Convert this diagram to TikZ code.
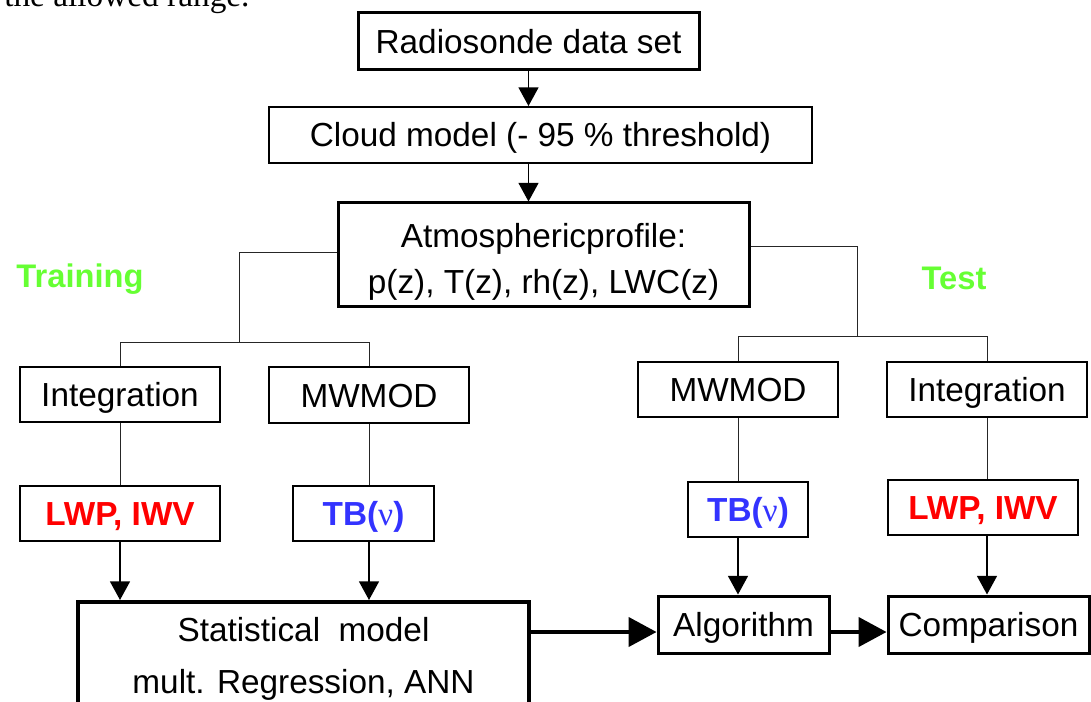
\documentclass[tikz,border=0pt]{standalone}
\usepackage{fontspec}
\setmainfont{Liberation Sans}
\newfontfamily\serifrm{Liberation Serif}
\usetikzlibrary{arrows.meta,calc}
\definecolor{trgreen}{RGB}{102,255,51}
\definecolor{lwpred}{RGB}{255,0,0}
\definecolor{tbblue}{RGB}{51,51,255}
\begin{document}
\begin{tikzpicture}[x=0.75pt,y=-0.75pt,
  wh/.style 2 args={minimum width=#1*0.75pt,minimum height=#2*0.75pt},
  box/.style={draw,line width=1.5pt,rectangle,inner sep=0pt,font=\fontsize{25}{30}\selectfont,text=black,text height=18pt,text depth=0pt},
  boxthick/.style={box,line width=2.25pt},
  multibox/.style={draw,rectangle,inner sep=0pt,align=center,text=black,line width=2.25pt},
  redbox/.style={box,text=lwpred,font=\fontsize{25}{30}\selectfont\bfseries},
  bluebox/.style={box,text=tbblue,font=\fontsize{25}{30}\selectfont\bfseries},
  conn/.style={line width=0.75pt,draw=black!85},
  arr/.style={line width=1.1pt,-{Triangle[length=14pt,width=15pt]}},
  bigarr/.style={line width=2.5pt,-{Triangle[length=21pt,width=22pt]}},
  lbl/.style={font=\fontsize{24.5}{30}\selectfont\bfseries,text=trgreen}
]
\useasboundingbox (0,0) rectangle (1091,702);
\clip (0,0) rectangle (1091,702);

\node[anchor=base west,inner sep=0pt,font=\serifrm\fontsize{25}{28}\selectfont] (topline) at (4,7) {the allowed range.};

\node[boxthick,wh={341}{57}] (rs) at (528.5,41.5) {Radiosonde data set};
\node[box,wh={543}{56}] (cloud) at (540.5,135) {Cloud model (- 95 \% threshold)};
\node[multibox,wh={411}{103},font=\fontsize{25}{34.5}\selectfont] (atm) at (543.5,254.5) {\rule{0pt}{29pt}Atmosphericprofile:\\p(z), T(z), rh(z), LWC(z)};

\node[lbl] (train) at (80,279) {Training};
\node[lbl] (test) at (954,278) {Test};

\node[box,wh={200}{55}] (intL) at (120,394.5) {Integration};
\node[box,wh={200}{56}] (mwL) at (369,395) {MWMOD};
\node[redbox,wh={200}{55}] (lwpL) at (120,513.5) {LWP, IWV};
\node[bluebox,wh={141}{55}] (tbL) at (363.5,513.5) {TB({\serifrm\mdseries ν})};
\node[multibox,line width=3pt,wh={451}{108},font=\fontsize{25}{39}\selectfont] (stat) at (303.5,656) {\rule{0pt}{23pt}Statistical\ \ model\\mult. Regression, ANN};

\node[box,wh={200}{55}] (mwR) at (738,389.5) {MWMOD};
\node[box,wh={200}{55}] (intR) at (987,389.5) {Integration};
\node[bluebox,wh={120}{55}] (tbR) at (748,509.5) {TB({\serifrm\mdseries ν})};
\node[redbox,wh={190}{55}] (lwpR) at (983,507.5) {LWP, IWV};
\node[boxthick,wh={171}{57}] (alg) at (743.5,624.5) {Algorithm};
\node[boxthick,wh={201}{57}] (cmp) at (988.5,624.5) {Comparison};

% top chain
\draw[arr] (rs.south) -- (cloud.north -| rs.south);
\draw[arr] (cloud.south -| rs.south) -- (atm.north -| rs.south);

% left tree
\coordinate (lj) at (239,252);
\coordinate (lb) at (239,342);
\draw[conn] (atm.west |- lj) -- (lj) -- (lb);
\draw[conn] (intL.north) -- (intL.north |- lb) -- (mwL.north |- lb) -- (mwL.north);
\draw[conn] (intL.south) -- (lwpL.north);
\draw[conn] (mwL.south) -- (mwL.south |- tbL.north);
\draw[arr] (lwpL.south) -- (lwpL.south |- stat.north);
\draw[arr] (mwL.south |- tbL.south) -- (mwL.south |- stat.north);

% right tree
\coordinate (rj) at (857,246);
\coordinate (rb) at (857,336);
\draw[conn] (atm.east |- rj) -- (rj) -- (rb);
\draw[conn] (mwR.north) -- (mwR.north |- rb) -- (intR.north |- rb) -- (intR.north);
\draw[conn] (mwR.south) -- (mwR.south |- tbR.north);
\draw[conn] (intR.south) -- (intR.south |- lwpR.north);
\draw[arr] (mwR.south |- tbR.south) -- (mwR.south |- alg.north);
\draw[arr] (intR.south |- lwpR.south) -- (intR.south |- cmp.north);

% bottom flow
\coordinate (ay) at (0,632);
\draw[bigarr] (stat.east |- ay) -- (alg.west |- ay);
\draw[bigarr] (alg.east |- ay) -- (cmp.west |- ay);
\end{tikzpicture}
\end{document}
